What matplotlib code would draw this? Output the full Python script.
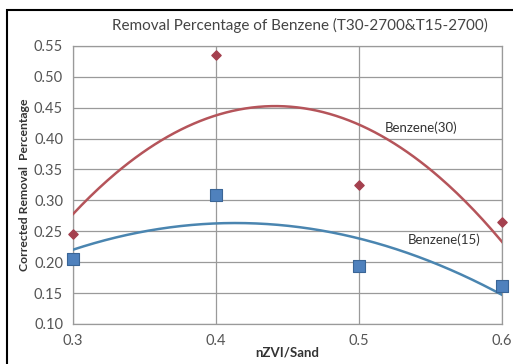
import matplotlib.pyplot as plt
from matplotlib.patches import Rectangle
import numpy as np

# données
ratio = [0.3, 0.4, 0.5, 0.6]
benzene_30 = [0.245, 0.535, 0.325, 0.265]
benzene_15 = [0.205, 0.308, 0.193, 0.162]
yticks = [0.10, 0.15, 0.20, 0.25, 0.30, 0.35, 0.40, 0.45, 0.50, 0.55]
xticks = [0.3, 0.4, 0.5, 0.6]

plt.rcParams['font.family'] = ['Lato', 'DejaVu Sans']

fig = plt.figure(figsize=(5.13, 3.64), dpi=100)
ax = fig.add_axes([0.142, 0.110, 0.837, 0.764])

# courbes de tendance polynomiales (ordre 2)
xs = np.linspace(0.3, 0.6, 200)
p30 = np.polyfit(ratio, benzene_30, 2)
p15 = np.polyfit(ratio, benzene_15, 2)
ax.plot(xs, np.polyval(p30, xs), color='#B5545A', lw=1.8, zorder=3)
ax.plot(xs, np.polyval(p15, xs), color='#4A85B0', lw=1.8, zorder=3)

ax.scatter(ratio, benzene_30, marker='D', s=22, color='#A4404E', zorder=4, clip_on=False)
ax.scatter(ratio, benzene_15, marker='s', s=65, color='#4F81BD', edgecolors='#3A6596',
           linewidths=0.8, zorder=4, clip_on=False)

ax.text(0.543, 0.418, 'Benzene(30)', fontsize=9.5, color='#333333', ha='center', va='center')
ax.text(0.5595, 0.236, 'Benzene(15)', fontsize=9.5, color='#333333', ha='center', va='center')

ax.set_xlim(0.3, 0.6)
ax.set_ylim(0.10, 0.55)
ax.set_xticks(xticks)
ax.set_xticklabels(['%.1f' % v for v in xticks])
ax.set_yticks(yticks)
ax.set_yticklabels(['%.2f' % v for v in yticks])
ax.tick_params(length=0, labelsize=10.5, labelcolor='#555555', pad=7)
ax.grid(color='#9a9a9a', lw=0.9)
ax.set_axisbelow(True)
for s in ax.spines.values():
    s.set_color('#9a9a9a')
    s.set_linewidth(0.9)

ax.set_xlabel('nZVI/Sand', fontsize=9.5, fontweight='bold', color='#333333', labelpad=-1)
ax.set_ylabel('Corrected Removal  Percentage', fontsize=8.8, fontweight='bold',
              color='#333333', labelpad=3)
fig.text(0.585, 0.93, 'Removal Percentage of Benzene (T30-2700&T15-2700)',
         fontsize=11, color='#444444', ha='center', va='center')

# cadre noir autour du graphique
fig.patches.append(Rectangle((7 / 513, -0.05), 1.2, 1 - 10 / 364 + 0.05,
                             transform=fig.transFigure, fill=False,
                             edgecolor='black', lw=1.5))

fig.savefig('out.png', dpi=100)
